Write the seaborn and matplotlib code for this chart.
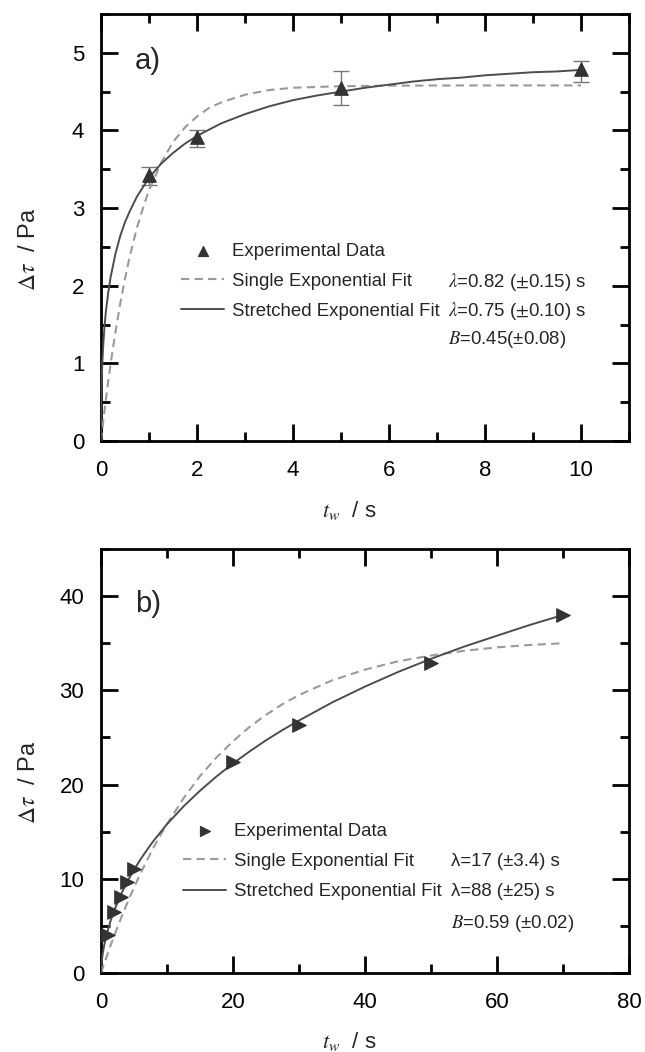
import matplotlib
matplotlib.use("Agg")
import matplotlib.pyplot as plt
import seaborn as sns
from matplotlib.ticker import MultipleLocator

# -------------------------------
# data
# -------------------------------
# panel a
tw_a = [1, 2, 5, 10]
dtau_a = [3.42, 3.91, 4.55, 4.79]
err_lo_a = [0.12, 0.12, 0.22, 0.16]
err_hi_a = [0.11, 0.09, 0.22, 0.11]

single_t_a = [0, 0.05, 0.1, 0.15, 0.2, 0.25, 0.3, 0.4, 0.5, 0.6, 0.75, 0.9, 1, 1.25,
              1.5, 1.75, 2, 2.25, 2.5, 3, 3.5, 4, 4.5, 5, 6, 7, 8, 10]
single_y_a = [0, 0.27, 0.53, 0.77, 0.99, 1.20, 1.40, 1.77, 2.09, 2.38, 2.75, 3.05,
              3.23, 3.58, 3.85, 4.04, 4.18, 4.29, 4.36, 4.46, 4.52, 4.55, 4.56, 4.57,
              4.577, 4.579, 4.58, 4.58]

stretch_t_a = [0, 0.002, 0.005, 0.01, 0.02, 0.03, 0.05, 0.07, 0.1, 0.15, 0.2, 0.3,
               0.4, 0.5, 0.6, 0.75, 1, 1.25, 1.5, 1.75, 2, 2.5, 3, 3.5, 4, 4.5, 5,
               5.5, 6, 6.5, 7, 7.5, 8, 8.5, 9, 9.5, 10]
stretch_y_a = [0, 0.33, 0.50, 0.67, 0.89, 1.04, 1.27, 1.45, 1.66, 1.91, 2.11, 2.41,
               2.64, 2.82, 2.96, 3.15, 3.39, 3.57, 3.71, 3.83, 3.93, 4.09, 4.21, 4.31,
               4.39, 4.45, 4.50, 4.55, 4.59, 4.63, 4.66, 4.68, 4.71, 4.73, 4.75, 4.76,
               4.78]

# panel b
tw_b = [1, 2, 3, 4, 5, 20, 30, 50, 70]
dtau_b = [4.0, 6.5, 8.1, 9.7, 11.0, 22.4, 26.3, 32.9, 38.0]

single_t_b = [0, 0.5, 1, 1.5, 2, 3, 4, 5, 6, 7.5, 8.75, 10, 12.5, 15, 17.5, 20, 22.5,
              25, 27.5, 30, 35, 40, 45, 50, 55, 60, 65, 70]
single_y_b = [0, 1.03, 2.03, 3.01, 3.95, 5.76, 7.47, 9.07, 10.59, 12.7, 14.33, 15.8,
              18.54, 20.9, 22.88, 24.6, 26.12, 27.4, 28.54, 29.5, 31.06, 32.2, 33.08,
              33.7, 34.2, 34.56, 34.82, 35.0]

stretch_t_b = [0, 0.02, 0.05, 0.1, 0.25, 0.5, 1, 1.5, 2, 3, 4, 5, 6, 7.5, 8, 10, 12.5,
               15, 17.5, 20, 22.5, 25, 27.5, 30, 35, 40, 45, 50, 55, 60, 65, 70]
stretch_y_b = [0, 0.46, 0.79, 1.18, 2.02, 3.01, 4.48, 5.64, 6.63, 8.30, 9.71, 10.96,
               12.08, 13.6, 14.06, 15.8, 17.68, 19.35, 20.86, 22.24, 23.51, 24.7, 25.79,
               26.8, 28.71, 30.4, 31.95, 33.35, 34.64, 35.8, 36.95, 38.0]

legend_labels = ["Experimental Data", "Single Exponential Fit", "Stretched Exponential Fit"]

# -------------------------------
# style
# -------------------------------
sns.set_theme(style="ticks")
plt.rcParams["font.family"] = ["Liberation Sans", "DejaVu Sans"]
plt.rcParams["mathtext.fontset"] = "stix"
plt.rcParams["axes.linewidth"] = 2.0

SOLID = "#4d4d4d"
DASH = "#9a9a9a"
MARK = "#333333"
DASHES = (0, (4, 2.5))

fig = plt.figure(figsize=(6.45, 10.52), dpi=100)
ax_a = fig.add_axes([0.1566, 0.5808, 0.8186, 0.4059])
ax_b = fig.add_axes([0.1566, 0.0751, 0.8186, 0.4030])


def style_axes(ax):
    for s in ax.spines.values():
        s.set_visible(True)
        s.set_color("black")
        s.set_linewidth(2.0)
    ax.tick_params(which="both", direction="in", top=True, right=True,
                   labeltop=False, labelright=False, colors="black")
    ax.tick_params(which="major", length=12, width=2, labelsize=16)
    ax.tick_params(which="minor", length=6.5, width=2)
    ax.tick_params(axis="x", which="major", pad=14)
    ax.tick_params(axis="y", which="major", pad=12)
    ax.set_facecolor("white")


# ---- panel a ----
ax = ax_a
ax.errorbar(tw_a, dtau_a, yerr=[err_lo_a, err_hi_a], fmt="none", ecolor="#777777",
            elinewidth=1.0, capsize=6, capthick=1.0, zorder=2)
sns.scatterplot(x=tw_a, y=dtau_a, marker="^", s=95, color=MARK, edgecolor=MARK,
                ax=ax, label=legend_labels[0], zorder=4)
sns.lineplot(x=single_t_a, y=single_y_a, color=DASH, lw=1.5, ax=ax,
             label=legend_labels[1], zorder=3)
ax.lines[-1].set_linestyle(DASHES)
sns.lineplot(x=stretch_t_a, y=stretch_y_a, color=SOLID, lw=1.4, ax=ax,
             label=legend_labels[2], zorder=3)
ax.set_xlim(0, 11)
ax.set_ylim(0, 5.5)
ax.xaxis.set_major_locator(MultipleLocator(2))
ax.xaxis.set_minor_locator(MultipleLocator(1))
ax.yaxis.set_major_locator(MultipleLocator(1))
ax.yaxis.set_minor_locator(MultipleLocator(0.5))
style_axes(ax)
ax.set_xlabel(r"$t_{w}$  / s", fontsize=16)
ax.set_ylabel(r"$\mathit{\Delta\tau}$  / Pa", fontsize=17)
ax.xaxis.set_label_coords(0.47, -0.135)
ax.yaxis.set_label_coords(-0.115, 0.45)
ax.legend(loc="upper left", bbox_to_anchor=(0.152, 0.464), frameon=False,
          fontsize=13.4, handlelength=2.3, handletextpad=0.4, labelspacing=0.7,
          borderpad=0, borderaxespad=0, markerscale=0.75)
ax.text(0.7, 4.9, "a)", fontsize=21, va="center", ha="left")
ax.text(7.22, 2.05, r"$\lambda$=0.82 ($\pm$0.15) s", fontsize=13.4, va="center")
ax.text(7.22, 1.68, r"$\lambda$=0.75 ($\pm$0.10) s", fontsize=13.4, va="center")
ax.text(7.22, 1.31, r"$B$=0.45(±0.08)", fontsize=13.4, va="center")

# ---- panel b ----
ax = ax_b
sns.scatterplot(x=tw_b, y=dtau_b, marker=">", s=95, color=MARK, edgecolor=MARK,
                ax=ax, label=legend_labels[0], zorder=4)
sns.lineplot(x=single_t_b, y=single_y_b, color=DASH, lw=1.5, ax=ax,
             label=legend_labels[1], zorder=3)
ax.lines[-1].set_linestyle(DASHES)
sns.lineplot(x=stretch_t_b, y=stretch_y_b, color=SOLID, lw=1.4, ax=ax,
             label=legend_labels[2], zorder=3)
ax.set_xlim(0, 80)
ax.set_ylim(0, 45)
ax.xaxis.set_major_locator(MultipleLocator(20))
ax.xaxis.set_minor_locator(MultipleLocator(10))
ax.yaxis.set_major_locator(MultipleLocator(10))
ax.yaxis.set_minor_locator(MultipleLocator(5))
style_axes(ax)
ax.set_xlabel(r"$t_{w}$  / s", fontsize=16)
ax.set_ylabel(r"$\mathit{\Delta\tau}$  / Pa", fontsize=17)
ax.xaxis.set_label_coords(0.47, -0.135)
ax.yaxis.set_label_coords(-0.115, 0.45)
ax.legend(loc="upper left", bbox_to_anchor=(0.156, 0.354), frameon=False,
          fontsize=13.4, handlelength=2.3, handletextpad=0.4, labelspacing=0.7,
          borderpad=0, borderaxespad=0, markerscale=0.75)
ax.text(5.2, 39.2, "b)", fontsize=21, va="center", ha="left")
ax.text(53, 11.8, "λ=17 (±3.4) s", fontsize=13.4, va="center")
ax.text(53, 8.6, "λ=88 (±25) s", fontsize=13.4, va="center")
ax.text(53, 5.25, r"$B$=0.59 (±0.02)", fontsize=13.4, va="center")

fig.savefig("out.png", dpi=100, facecolor="white")
